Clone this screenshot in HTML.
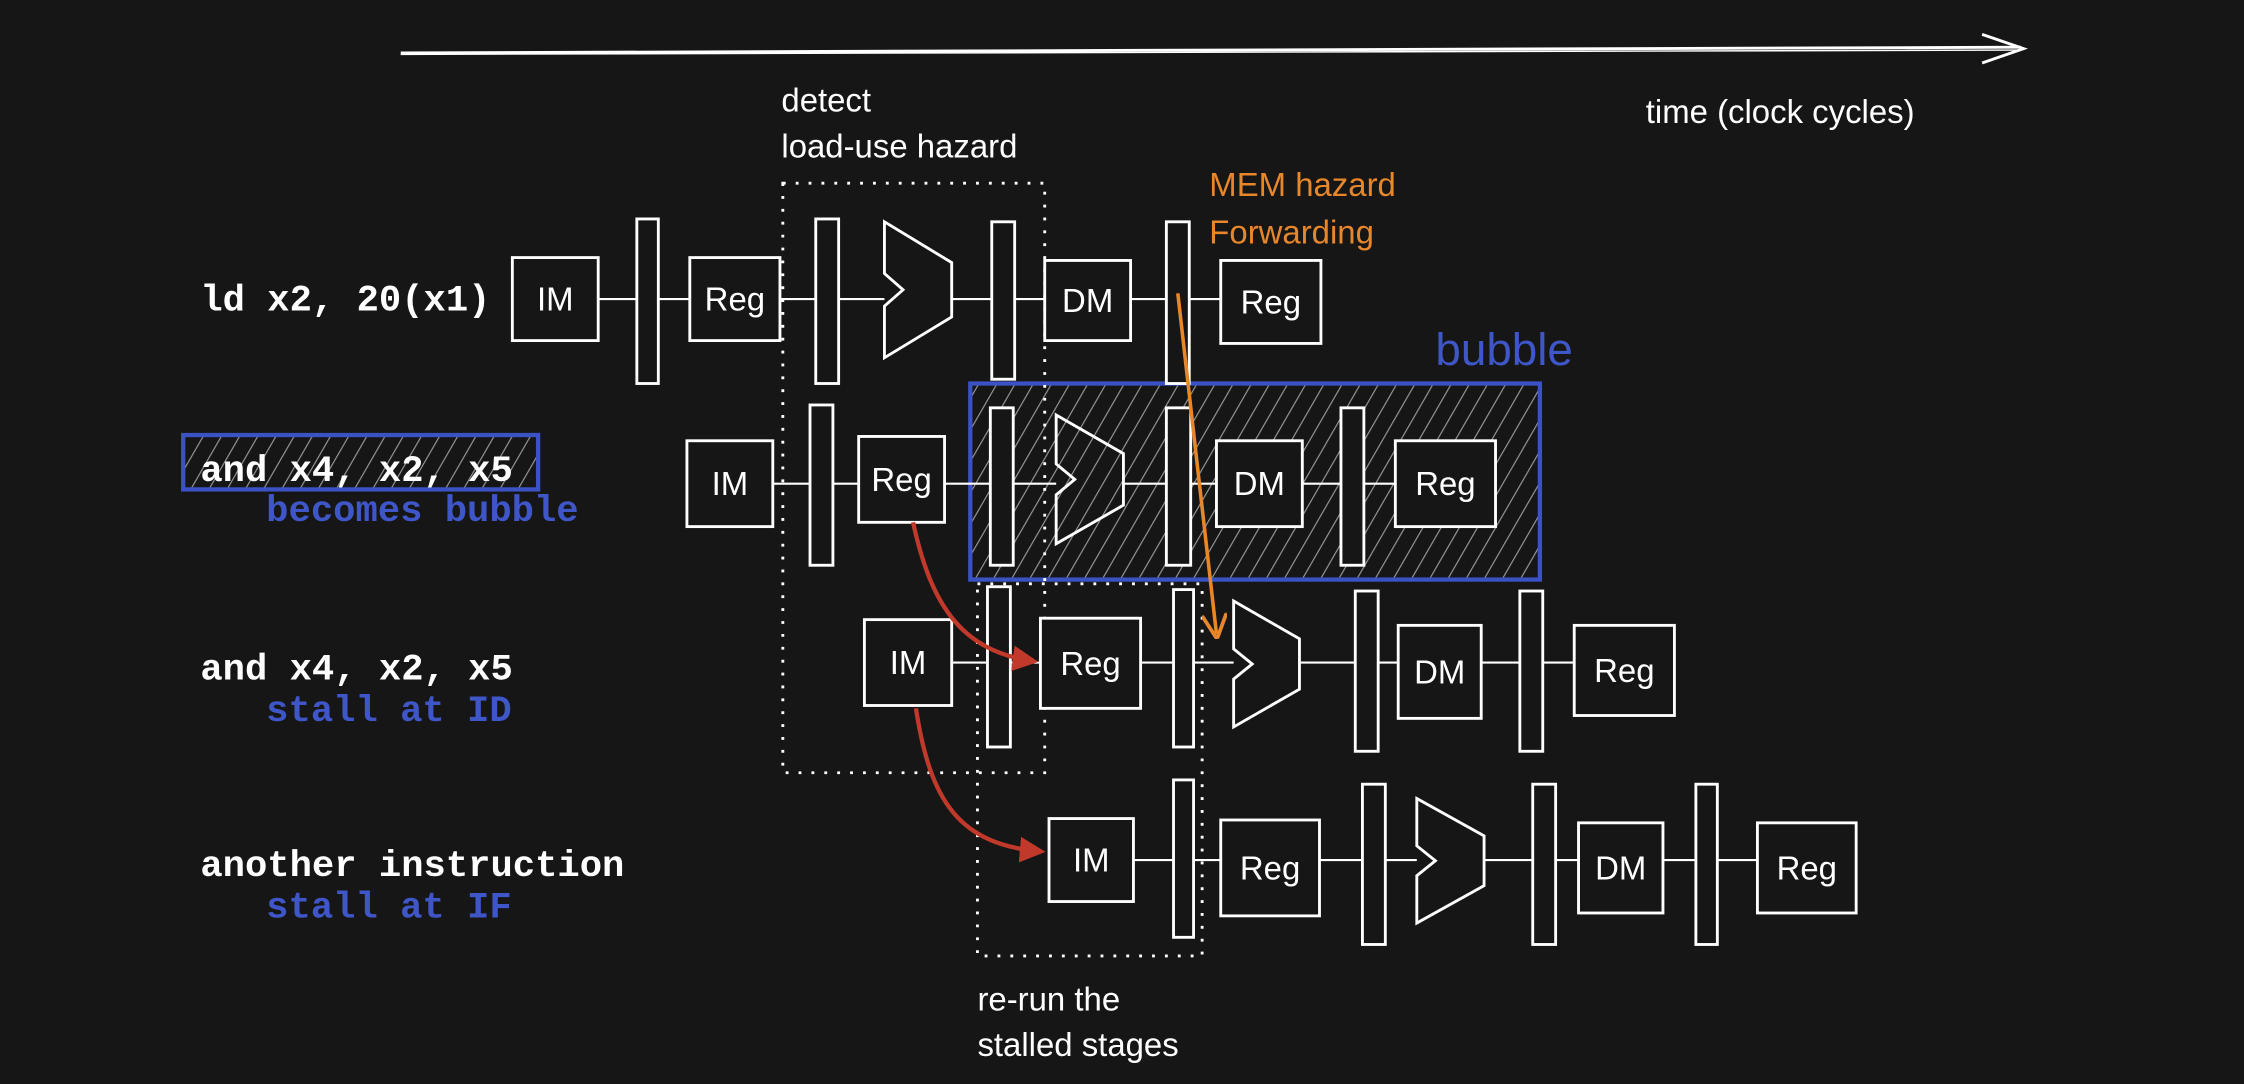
<!DOCTYPE html>
<html><head><meta charset="utf-8"><style>
html,body{margin:0;padding:0;background:#161616;width:2244px;height:1084px;overflow:hidden}
svg{display:block}
.mono{font-family:"Liberation Mono","DejaVu Sans Mono",monospace;font-weight:bold;font-size:26px}
.hand{font-family:"Liberation Sans","DejaVu Sans",sans-serif;font-size:23px;fill:#fff}
.stage{font-family:"Liberation Sans","DejaVu Sans",sans-serif;font-size:23px;fill:#fff;text-anchor:middle;dominant-baseline:central}
</style></head><body>
<svg id="diag" width="2244" height="1084" viewBox="0 0 1568 757.5" preserveAspectRatio="none" xmlns="http://www.w3.org/2000/svg">
<defs>
<pattern id="hatch" patternUnits="userSpaceOnUse" width="11" height="11" patternTransform="rotate(30)">
<line x1="0" y1="0" x2="0" y2="11" stroke="#9a9a9a" stroke-width="1.6"/>
</pattern>
<marker id="arrRed" viewBox="0 0 10 10" refX="8" refY="5" markerWidth="6" markerHeight="6" orient="auto"><path d="M0,0 L10,5 L0,10 z" fill="#c0392b"/></marker>
<marker id="arrOrange" viewBox="0 0 10 10" refX="8" refY="5" markerWidth="7" markerHeight="7" orient="auto"><path d="M0,0 L10,5 L0,10" fill="none" stroke="#e8862a" stroke-width="1.5"/></marker>
</defs>
<g>
<line x1="280" y1="37" x2="1412" y2="33" stroke="#fff" stroke-width="2"/>
<line x1="280" y1="38" x2="1412" y2="35" stroke="#fff" stroke-width="1"/>
<path d="M1385,24 L1414,34 L1385,44" fill="none" stroke="#fff" stroke-width="2"/>
<text x="1150" y="86" class="hand">time (clock cycles)</text>
</g>
<text x="546" y="78" class="hand">detect</text>
<text x="546" y="110" class="hand">load-use hazard</text>
<text x="845" y="137" class="hand" style="fill:#e8862a">MEM hazard</text>
<text x="845" y="170" class="hand" style="fill:#e8862a">Forwarding</text>
<text x="1003" y="255" class="hand" style="fill:#3f56c8;font-size:32px">bubble</text>
<text x="683" y="706" class="hand">re-run the</text>
<text x="683" y="738" class="hand">stalled stages</text>

<rect x="678" y="268" width="398" height="137" fill="url(#hatch)" stroke="#3a52c4" stroke-width="3"/>
<rect x="128" y="304" width="248" height="38" fill="url(#hatch)" stroke="#3a52c4" stroke-width="3"/>

<text x="140" y="217" class="mono" fill="#fff">ld x2, 20(x1)</text>
<text x="140" y="336" class="mono" fill="#fff">and x4, x2, x5</text>
<text x="186" y="364" class="mono" fill="#3f56c8">becomes bubble</text>
<text x="140" y="475" class="mono" fill="#fff">and x4, x2, x5</text>
<text x="186" y="504" class="mono" fill="#3f56c8">stall at ID</text>
<text x="140" y="612" class="mono" fill="#fff">another instruction</text>
<text x="186" y="641" class="mono" fill="#3f56c8">stall at IF</text>

<rect x="547" y="128" width="183" height="412" fill="none" stroke="#fff" stroke-width="2" stroke-dasharray="2,7"/>
<rect x="683" y="408" width="157" height="260" fill="none" stroke="#fff" stroke-width="2" stroke-dasharray="2,7"/>
<g id="pipes"></g>
<path d="M638,365 C650,420 670,455 722,462" fill="none" stroke="#c0392b" stroke-width="3" marker-end="url(#arrRed)"/>
<path d="M640,495 C650,560 670,590 727,595" fill="none" stroke="#c0392b" stroke-width="3" marker-end="url(#arrRed)"/>
<line x1="823" y1="205" x2="850" y2="443" stroke="#e8862a" stroke-width="2.5" marker-end="url(#arrOrange)"/>
</svg>
<script>
// stage layouts: [type, x0, x1, y0, y1]
const row1 = [["IM",358,418,180,238],["P",445,460,153,268],["Reg",482,545,180,238],["P",570,586,153,268],["ALU",618,665,155,250],["P",693,709,155,265],["DM",730,790,182,238],["P",815,831,155,268],["Reg",853,923,182,240]];
const row2 = [["IM",480,540,308,368],["P",566,582,283,395],["Reg",600,660,305,365],["P",692,708,285,395],["ALU",738,785,290,380],["P",815,832,285,395],["DM",850,910,308,368],["P",937,953,285,395],["Reg",975,1045,308,368]];
const row3 = [["IM",604,665,433,493],["P",690,706,410,522],["Reg",727,797,432,495],["P",820,834,412,522],["ALU",862,908,420,508],["P",947,963,413,525],["DM",977,1035,437,502],["P",1062,1078,413,525],["Reg",1100,1170,437,500]];
const row4 = [["IM",733,792,572,630],["P",820,834,545,655],["Reg",853,922,573,640],["P",952,968,548,660],["ALU",990,1037,558,645],["P",1071,1087,548,660],["DM",1103,1162,575,638],["P",1185,1200,548,660],["Reg",1228,1297,575,638]];
const rows=[row1,row2,row3,row4];
const NS="http://www.w3.org/2000/svg";
const g=document.getElementById('pipes');
function mk(tag,attrs){const e=document.createElementNS(NS,tag);for(const k in attrs)e.setAttribute(k,attrs[k]);return e;}
rows.forEach((row,ri)=>{
  const rg=mk('g',{});
  
  
  g.appendChild(rg);
  const yc=(row[0][3]+row[0][4])/2;
  for(let i=0;i<row.length-1;i++){
    const a=row[i],b=row[i+1];
    const ln=mk('line',{x1:a[2],y1:yc,x2:b[1],y2:yc,stroke:'#fff','stroke-width':1.5});
    
    
    rg.appendChild(ln);
  }
  row.forEach(s=>{
    const [t,x0,x1,y0,y1]=s;
    let el;
    if(t==='P'){
      el=mk('rect',{x:x0,y:y0,width:x1-x0,height:y1-y0,fill:'#161616',stroke:'#fff','stroke-width':2});
      
    }else if(t==='ALU'){
      const h=y1-y0,ym=(y0+y1)/2;
      el=mk('polygon',{points:`${x0},${y0} ${x1},${y0+h*0.3} ${x1},${y1-h*0.3} ${x0},${y1} ${x0},${ym+h*0.12} ${x0+13},${ym} ${x0},${ym-h*0.12}`,fill:'none',stroke:'#fff','stroke-width':2});
      
    }else{
      el=mk('rect',{x:x0,y:y0,width:x1-x0,height:y1-y0,fill:'#161616',stroke:'#fff','stroke-width':2});
      
    }
    
    rg.appendChild(el);
    if(t!=='P'&&t!=='ALU'){
      const tx=mk('text',{x:(x0+x1)/2,y:(y0+y1)/2,class:'stage'});
      tx.textContent=t;
      
      
      rg.appendChild(tx);
    }
  });
});
</script>
</body></html>
